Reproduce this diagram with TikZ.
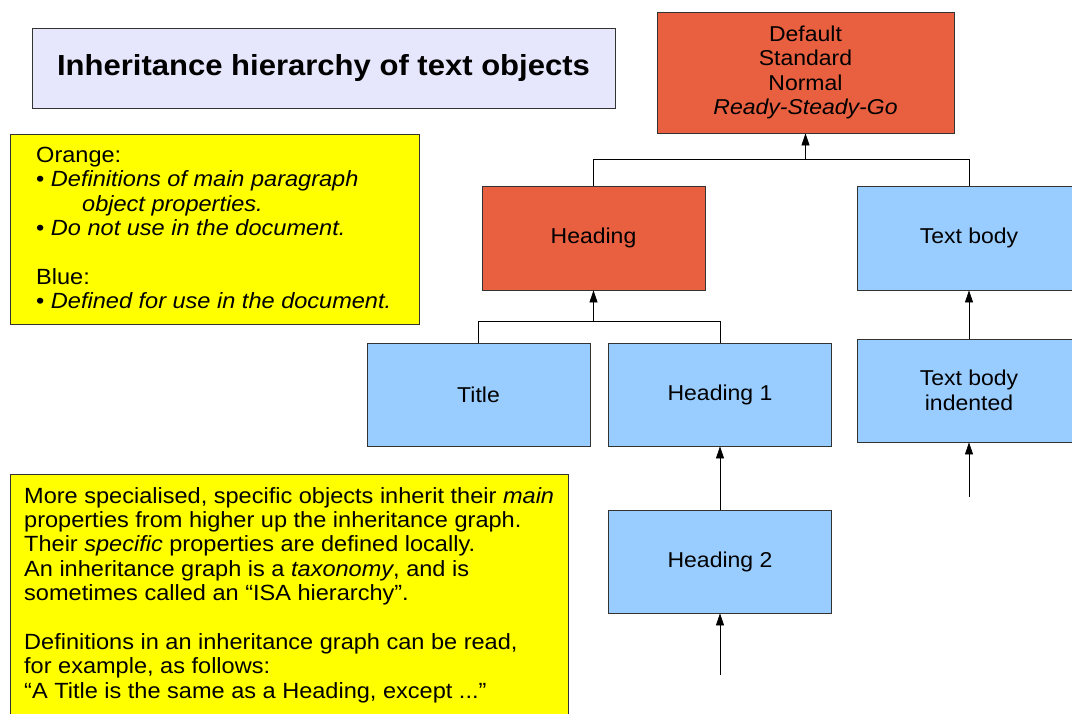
\documentclass[tikz,border=0pt]{standalone}
\usepackage{fontspec}
\setmainfont{Liberation Sans}[FakeStretch=1.07]
\usetikzlibrary{arrows.meta}

\definecolor{orangebox}{RGB}{233,96,64}
\definecolor{bluebox}{RGB}{153,204,255}
\definecolor{notefill}{RGB}{255,255,0}
\definecolor{capfill}{RGB}{230,230,252}

\tikzset{
  classbox/.style={draw=black!80, line width=0.8pt, minimum width=223pt,
    minimum height=103pt, inner sep=2pt, align=center,
    font=\fontsize{21.5}{24.5}\selectfont},
  baseclass/.style={classbox, fill=orangebox},
  useclass/.style={classbox, fill=bluebox},
  notebox/.style={draw=black!80, line width=0.8pt, fill=notefill,
    inner sep=0pt, anchor=north west},
  notetext/.style={anchor=north west, inner sep=0pt, align=left,
    font=\fontsize{22}{24.4}\selectfont},
  link/.style={line width=0.7pt},
  isa/.style={link, -{Triangle[width=8pt,length=12pt]}}
}

\begin{document}
\begin{tikzpicture}[x=1pt,y=-1pt]
\clip (0,0) rectangle (1072,713);
\fill [white] (0,0) rectangle (1072,713);
% caption and notes
\node [draw=black!80, line width=0.8pt, fill=capfill, minimum width=583pt, minimum height=80pt,
  font=\fontsize{29}{34}\bfseries\selectfont] (caption) at (323.5,68) {Inheritance hierarchy of text objects};
\node [notebox, minimum width=409pt, minimum height=190pt] (legend) at (10,134) {};
\node [notetext] (legendtext) at (36,147) {Orange:\\
  • \textit{Definitions of main paragraph}\\
  \hspace*{46pt}\textit{object properties.}\\
  • \textit{Do not use in the document.}\\
  \mbox{}\\
  Blue:\\
  • \textit{Defined for use in the document.}};
\node [notebox, minimum width=558pt, minimum height=260pt] (notes) at (10,474) {};
\node [notetext] (notestext) at (24,487) {More specialised, specific objects inherit their \textit{main}\\
  properties from higher up the inheritance graph.\\
  Their \textit{specific} properties are defined locally.\\
  An inheritance graph is a \textit{taxonomy}, and is\\
  sometimes called an “ISA hierarchy”.\\
  \mbox{}\\
  Definitions in an inheritance graph can be read,\\
  for example, as follows:\\
  “A Title is the same as a Heading, except ...”};
% class boxes
\node [baseclass, minimum width=297pt, minimum height=121pt] (deflt) at (805.5,72.5)
  {Default\\Standard\\Normal\\\textit{Ready-Steady-Go}};
\node [baseclass, minimum height=104pt] (heading) at (593.5,238) {Heading};
\node [useclass, minimum height=104pt] (textbody) at (969,238) {Text body};
\node [useclass] (title) at (478.5,394.5) {Title};
\node [useclass] (headone) at (720,394.5) {Heading 1};
\node [useclass] (tbind) at (969,390.5) {Text body\\indented};
\node [useclass] (headtwo) at (720,561.5) {Heading 2};
% connectors
\coordinate (topjoin) at (805.5,159);
\coordinate (midjoin) at (593.5,321);
\coordinate (htwofree) at (720,675);
\coordinate (tbfree) at (969,497);
\draw [link] (heading.north) |- (textbody.north |- topjoin) -- (textbody.north);
\draw [isa] (topjoin) -- (deflt.south);
\draw [link] (title.north) |- (headone.north |- midjoin) -- (headone.north);
\draw [isa] (midjoin) -- (heading.south);
\draw [isa] (tbind.north) -- (textbody.south);
\draw [isa] (headtwo.north) -- (headone.south);
\draw [isa] (htwofree) -- (headtwo.south);
\draw [isa] (tbfree) -- (tbind.south);
\end{tikzpicture}
\end{document}
